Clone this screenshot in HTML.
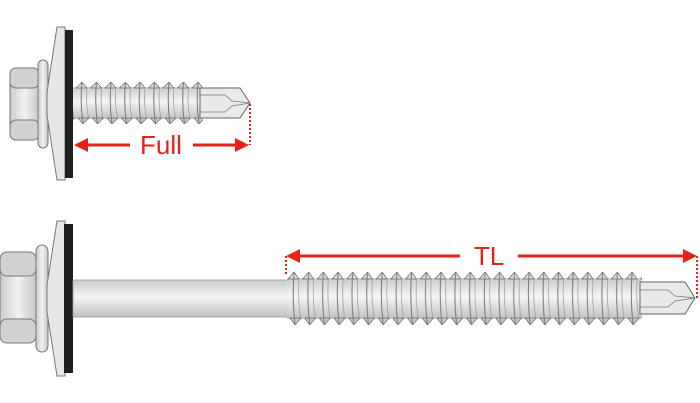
<!DOCTYPE html>
<html><head><meta charset="utf-8"><style>
html,body{margin:0;padding:0;background:#fff;}
svg{display:block}
text{font-family:"Liberation Sans",sans-serif;fill:#e32219}
</style></head><body>
<svg width="700" height="403" viewBox="0 0 700 403" xmlns="http://www.w3.org/2000/svg">
<defs>
<linearGradient id="g" x1="0" y1="0" x2="0" y2="1">
<stop offset="0" stop-color="#c9cbcd"/><stop offset="0.45" stop-color="#f4f5f6"/><stop offset="1" stop-color="#bfc1c3"/>
</linearGradient>
<linearGradient id="gh" x1="0" y1="0" x2="1" y2="0">
<stop offset="0" stop-color="#c8cacc"/><stop offset="0.5" stop-color="#f1f2f3"/><stop offset="1" stop-color="#c4c6c8"/>
</linearGradient>
<pattern id="t1" patternUnits="userSpaceOnUse" x="75" y="82" width="14.5" height="42">
<rect x="0" y="5" width="14.5" height="32" fill="url(#g)"/>
<polygon points="1,6 7,0 12,6" fill="#d9dbdd" stroke="#666" stroke-width="0.7"/>
<polygon points="3,36 8,42 14,36" fill="#c5c7c9" stroke="#666" stroke-width="0.7"/>
<path d="M7,0 Q5,21 8,42" stroke="#777" stroke-width="1" fill="none"/>
<path d="M12,6 Q10.5,21 13.5,36" stroke="#999" stroke-width="0.7" fill="none"/>
</pattern>
<pattern id="t2" patternUnits="userSpaceOnUse" x="287" y="272" width="14.7" height="53">
<rect x="0" y="6" width="14.7" height="41" fill="url(#g)"/>
<polygon points="1,7 7,0 12,7" fill="#d9dbdd" stroke="#666" stroke-width="0.7"/>
<polygon points="3,46 8,53 14,46" fill="#c5c7c9" stroke="#666" stroke-width="0.7"/>
<path d="M7,0 Q5,26 8,53" stroke="#777" stroke-width="1" fill="none"/>
<path d="M12,7 Q10.5,26 13.5,46" stroke="#999" stroke-width="0.7" fill="none"/>
</pattern>
</defs>

<!-- TOP SCREW -->
<rect x="10" y="68" width="29" height="72" rx="6" fill="url(#gh)" stroke="#777" stroke-width="1"/>
<rect x="10" y="68" width="29" height="20" rx="6" fill="#cfd1d3" stroke="#777"/>
<rect x="10" y="120" width="29" height="20" rx="6" fill="#cfd1d3" stroke="#777"/>
<rect x="38" y="60" width="10" height="88" rx="5" fill="url(#gh)" stroke="#777"/>
<polygon points="47,92 57,27 65,27 65,180 57,180 47,115" fill="#e6e7e8" stroke="#777" stroke-width="1"/>
<rect x="65" y="30" width="8" height="148" fill="#231f20"/>
<rect x="73" y="82" width="130" height="42" fill="url(#t1)"/>
<polygon points="200,88 240,88 250,103 240,118 200,118" fill="#e8e9ea" stroke="#666" stroke-width="1"/>
<path d="M200,95 L225,95 L232,101 L250,103 L232,106 L225,112 L200,112" fill="none" stroke="#777" stroke-width="0.8"/>
<path d="M250,104 L250,145" stroke="#e32219" stroke-width="2" stroke-dasharray="2,2"/>
<path d="M86,145 L130,145 M193,145 L236,145" stroke="#e32219" stroke-width="3"/>
<polygon points="74,145 88,138 88,152" fill="#e32219"/>
<polygon points="249,145 235,138 235,152" fill="#e32219"/>
<text x="161" y="154" font-size="26" text-anchor="middle">Full</text>

<!-- BOTTOM SCREW -->
<rect x="0" y="252" width="36" height="91" rx="7" fill="url(#gh)" stroke="#777"/>
<rect x="0" y="252" width="36" height="24" rx="7" fill="#cfd1d3" stroke="#777"/>
<rect x="0" y="319" width="36" height="24" rx="7" fill="#cfd1d3" stroke="#777"/>
<rect x="36" y="245" width="12" height="107" rx="6" fill="url(#gh)" stroke="#777"/>
<polygon points="47,285 57,221 65,221 65,376 57,376 47,312" fill="#e6e7e8" stroke="#777"/>
<rect x="64" y="224" width="9" height="149" fill="#231f20"/>
<rect x="73" y="280" width="216" height="37" fill="url(#g)" stroke="#999" stroke-width="0.8"/>
<rect x="287" y="272" width="355" height="53" fill="url(#t2)"/>
<polygon points="640,282 685,282 695,298 685,314 640,314" fill="#e8e9ea" stroke="#666" stroke-width="1"/>
<path d="M640,290 L668,290 L675,296 L695,298 L675,301 L668,307 L640,307" fill="none" stroke="#777" stroke-width="0.8"/>
<path d="M286,256 L286,276" stroke="#e32219" stroke-width="2" stroke-dasharray="2,2"/>
<path d="M697,256 L697,298" stroke="#e32219" stroke-width="2" stroke-dasharray="2,2"/>
<path d="M298,256 L460,256 M518,256 L685,256" stroke="#e32219" stroke-width="3"/>
<polygon points="286,256 300,249 300,263" fill="#e32219"/>
<polygon points="697,256 683,249 683,263" fill="#e32219"/>
<text x="489" y="265" font-size="26" text-anchor="middle">TL</text>
</svg>
</body></html>
